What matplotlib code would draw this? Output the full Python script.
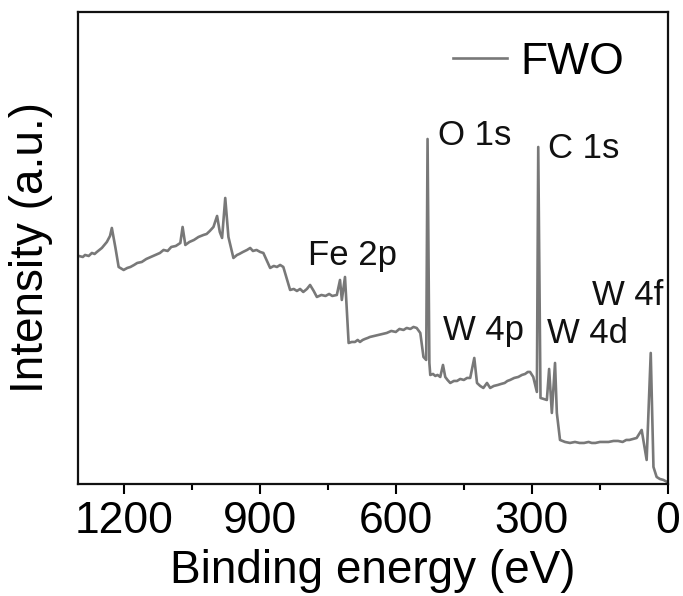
import matplotlib
matplotlib.use("Agg")
import matplotlib.pyplot as plt

plt.rcParams['font.family'] = ['Liberation Sans', 'DejaVu Sans']

# Binding energy (eV) and intensity (a.u.)
energy = [1299, 1290, 1285, 1277, 1270, 1264, 1259, 1248, 1237, 1230, 1226, 1218, 1211,
          1200, 1192, 1185, 1177, 1170, 1160, 1150, 1140, 1130, 1120, 1112, 1103, 1095,
          1085, 1075, 1070, 1064, 1055, 1045, 1035, 1024, 1017, 1010, 1002, 994, 988, 983,
          976, 969, 958, 950, 945, 937, 928, 921, 915, 907, 899, 892, 877, 869, 862, 855,
          848, 833, 825, 818, 811, 804, 796, 789, 781, 774, 764, 755, 747, 740, 730, 723,
          719, 712, 704, 697, 690, 684, 679, 673, 668, 662, 657, 648, 640, 630, 620, 610,
          600, 592, 583, 576, 568, 561, 554, 546, 539, 533, 530, 526, 524, 518, 513, 508,
          502, 496, 491, 486, 480, 472, 465, 458, 450, 443, 436, 427, 421, 414, 407, 399,
          392, 384, 375, 368, 360, 354, 348, 339, 330, 322, 315, 309, 304, 297, 289, 286,
          281, 274, 267, 262, 256, 249, 245, 238, 227, 216, 205, 195, 185, 175, 168, 160,
          150, 142, 131, 120, 110, 100, 92, 85, 77, 69, 58, 47, 38, 32, 25, 18, 10, 2]
intensity = [228, 227, 229, 228, 231, 230, 232, 236, 242, 248, 256, 236, 217,
             214, 216, 217, 219, 221, 222, 225, 227, 229, 231, 234, 233, 237,
             238, 241, 257, 239, 242, 244, 247, 249, 250, 253, 257, 268, 252, 246,
             286, 247, 226, 229, 230, 232, 234, 236, 233, 234, 232, 231, 216, 218, 217, 219,
             217, 194, 195, 193, 195, 192, 195, 199, 193, 187, 189, 188, 190, 188, 189, 204,
             184, 207, 141, 142, 142, 144, 142, 144, 145, 146, 147, 148, 149, 150, 151, 153,
             152, 155, 154, 156, 155, 157, 156, 151, 127, 124, 345, 121, 109, 110, 108, 109,
             107, 119, 107, 104, 101, 103, 103, 105, 104, 106, 106, 126, 101, 98, 96, 101,
             96, 98, 99, 100, 101, 103, 104, 106, 107, 109, 110, 112, 112, 107, 92, 337,
             86, 85, 84, 115, 71, 121, 71, 44, 42, 41, 42, 41, 41, 42, 41, 41,
             42, 42, 42, 43, 43, 42, 44, 44, 45, 46, 54, 24, 131, 17, 7, 5, 4, 2]

peak_labels = ['Fe 2p', 'O 1s', 'C 1s', 'W 4p', 'W 4d', 'W 4f']
label_x = [793, 507, 264, 496, 267, 168]
label_y = [219, 339, 326, 144, 141, 179]

fig = plt.figure(figsize=(6.83, 5.96), dpi=100)
ax = fig.add_axes([0.1146, 0.188, 0.8634, 0.7919])

ax.plot(energy, intensity, color='#787878', lw=1.9, label='FWO')

for t, x, y in zip(peak_labels, label_x, label_y):
    ax.text(x, y, t, fontsize=25, ha='left', va='baseline', color='#111111')

ax.set_xlim(1300, 0)
ax.set_ylim(0, 472)
ax.set_xticks([1200, 900, 600, 300, 0])
ax.set_xticks([1050, 750, 450, 150], minor=True)
ax.set_yticks([])
ax.tick_params(axis='x', which='major', direction='out', length=7, width=1.5,
               labelsize=32, pad=5)
ax.tick_params(axis='x', which='minor', direction='out', length=4, width=1.5)
for s in ax.spines.values():
    s.set_linewidth(1.6)
    s.set_color('#111111')

ax.set_xlabel('Binding energy (eV)', fontsize=33, labelpad=5)
ax.set_ylabel('Intensity (a.u.)', fontsize=33, labelpad=18)

leg = ax.legend(loc='upper right', bbox_to_anchor=(0.925, 0.937), frameon=False,
                fontsize=32, handlelength=1.2, handletextpad=0.3,
                borderpad=0, borderaxespad=0)

fig.savefig('out.png', dpi=100)
